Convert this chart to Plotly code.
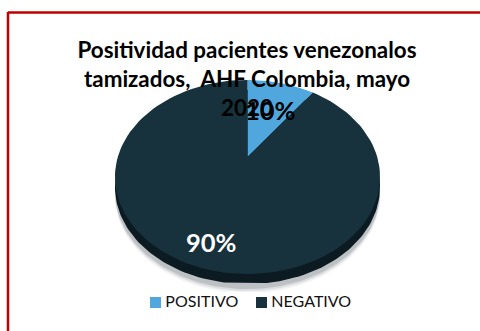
import numpy as np
import plotly.graph_objects as go

categories = ["POSITIVO", "NEGATIVO"]
values = [10, 90]
labels = ["10%", "90%"]
colors = ["#4fa7dd", "#17323c"]
title_lines = ["Positividad pacientes venezonalos", "tamizados,  AHF Colombia, mayo", "2020"]

# Perspective tilt of the disc, in page pixels
APEX_X, APEX_Y = 247.5, 157.0
FLATTEN_X, FLATTEN_Y, TILT = 129.7, 92.9, 0.206
DEPTH = 10.0
FLOOR = 283.0


def project(theta, drop=0.0):
    """Map a clockwise-from-top angle on the disc to page coordinates."""
    u, v = np.sin(theta), np.cos(theta)
    w = 1 + TILT * v
    return APEX_X + FLATTEN_X * u / w, APEX_Y - FLATTEN_Y * v / w + drop


def wedge(start, stop):
    theta = np.linspace(start, stop, 120)
    x, y = project(theta)
    return np.r_[APEX_X, x, APEX_X], np.r_[APEX_Y, y, APEX_Y]


fig = go.Figure()

# Soft ground shadow under the disc
full = np.linspace(0, 2 * np.pi, 240)
for drop, shade in [(19, "rgba(120,130,135,0.10)"), (17, "rgba(120,130,135,0.18)"), (15, "rgba(120,130,135,0.30)")]:
    sx, sy = project(full, drop)
    fig.add_trace(go.Scatter(x=sx, y=np.minimum(sy, 292), mode="lines", fill="toself",
                             fillcolor=shade, line=dict(width=0), hoverinfo="skip", showlegend=False))

# Side wall of the disc
sx, sy = project(full, DEPTH)
fig.add_trace(go.Scatter(x=sx, y=np.minimum(sy, FLOOR), mode="lines", fill="toself",
                         fillcolor="#0b1b21", line=dict(width=0), hoverinfo="skip", showlegend=False))

# Top face, one wedge per category
shares = np.cumsum([0] + values) / sum(values) * 2 * np.pi
for i, name in enumerate(categories):
    wx, wy = wedge(shares[i], shares[i + 1])
    fig.add_trace(go.Scatter(x=wx, y=wy, mode="lines", fill="toself", fillcolor=colors[i],
                             line=dict(width=0), name=name, showlegend=False))

# Key below the disc
for name, color, mx in zip(categories, colors, [155.5, 261.5]):
    fig.add_trace(go.Scatter(x=[mx], y=[302.5], mode="markers+text", text=["\u2009" + name],
                             textposition="middle right",
                             textfont=dict(family="Lato", size=16, color="#111111"),
                             marker=dict(symbol="square", size=11, color=color),
                             hoverinfo="skip", showlegend=False))

# Value labels
fig.add_annotation(x=270, y=110, text=f"<b>{labels[0]}</b>", showarrow=False,
                   font=dict(family="Lato", size=25.5, color="#000000"))
fig.add_annotation(x=211, y=242, text=f"<b>{labels[1]}</b>", showarrow=False,
                   font=dict(family="Lato", size=25.5, color="#ffffff"))

# Red frame, open on the right and at the bottom
frame = dict(color="#c00000", width=2.5)
fig.add_shape(type="line", x0=8, x1=480, y0=12.5, y1=12.5, line=frame)
fig.add_shape(type="line", x0=8, x1=8, y0=12, y1=331, line=frame)

fig.update_layout(
    width=480, height=331,
    margin=dict(l=0, r=0, t=0, b=0),
    paper_bgcolor="white", plot_bgcolor="white",
    showlegend=False,
    title=dict(text="<br>".join(title_lines), x=247 / 480, y=1 - 58 / 331,
               xanchor="center", yanchor="top",
               font=dict(family="Lato", size=22.4, color="#000000", weight="bold")),
    xaxis=dict(range=[0, 480], visible=False, fixedrange=True),
    yaxis=dict(range=[331, 0], visible=False, fixedrange=True),
)

fig.write_html("out.html", config=dict(displayModeBar=False))
